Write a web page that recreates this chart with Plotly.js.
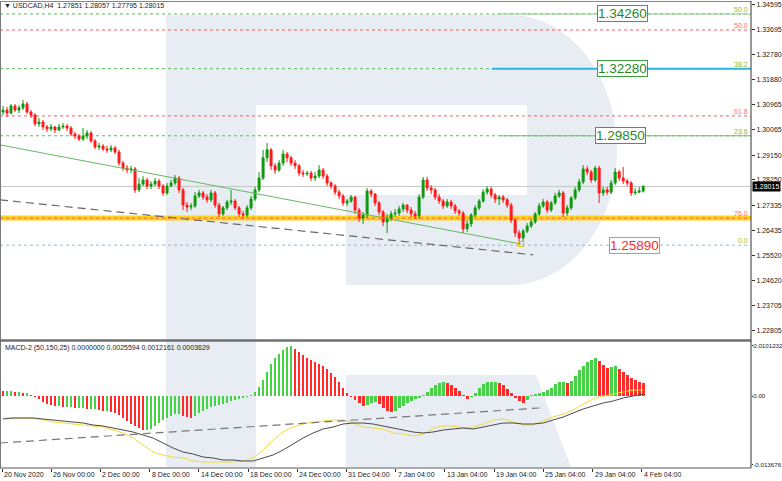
<!DOCTYPE html>
<html><head><meta charset="utf-8">
<script src="https://cdn.plot.ly/plotly-3.0.1.min.js"></script>
<style>html,body{margin:0;padding:0;background:#fff}#chart{width:782px;height:481px}</style>
</head><body><div id="chart"></div>
<script>
// ---------- DATA ----------
const openP=[1.3071,1.3078,1.3067,1.3093,1.3078,1.3086,1.3100,1.3071,1.3060,1.3028,
1.3035,1.3017,1.3010,1.3017,1.3006,1.3017,1.3020,1.3013,1.2991,1.2984,
1.2973,1.2984,1.2995,1.2966,1.2944,1.2948,1.2937,1.2934,1.2941,1.2926,
1.2886,1.2868,1.2861,1.2865,1.2789,1.2810,1.2825,1.2803,1.2810,1.2821,
1.2803,1.2778,1.2803,1.2814,1.2832,1.2789,1.2734,1.2727,1.2731,1.2767,
1.2778,1.2763,1.2753,1.2778,1.2734,1.2702,1.2724,1.2745,1.2749,1.2724,
1.2702,1.2698,1.2724,1.2756,1.2789,1.2832,1.2905,1.2934,1.2876,1.2861,
1.2886,1.2919,1.2905,1.2886,1.2876,1.2850,1.2847,1.2850,1.2832,1.2839,
1.2861,1.2839,1.2814,1.2803,1.2781,1.2767,1.2742,1.2749,1.2763,1.2716,
1.2687,1.2698,1.2785,1.2774,1.2742,1.2709,1.2673,1.2687,1.2702,1.2705,
1.2720,1.2734,1.2716,1.2702,1.2695,1.2763,1.2825,1.2796,1.2789,1.2763,
1.2749,1.2731,1.2745,1.2731,1.2713,1.2705,1.2648,1.2666,1.2698,1.2724,
1.2749,1.2781,1.2792,1.2771,1.2756,1.2763,1.2753,1.2734,1.2680,1.2633,
1.2615,1.2640,1.2658,1.2673,1.2702,1.2731,1.2745,1.2716,1.2742,1.2767,
1.2778,1.2705,1.2724,1.2760,1.2789,1.2818,1.2865,1.2854,1.2825,1.2868,
1.2778,1.2789,1.2781,1.2814,1.2854,1.2832,1.2821,1.2814,1.2778,1.2781,
1.27851];
const closeP=[1.3078,1.3067,1.3093,1.3078,1.3086,1.3100,1.3071,1.3060,1.3028,1.3035,
1.3017,1.3010,1.3017,1.3006,1.3017,1.3020,1.3013,1.2991,1.2984,1.2973,
1.2984,1.2995,1.2966,1.2944,1.2948,1.2937,1.2934,1.2941,1.2926,1.2886,
1.2868,1.2861,1.2865,1.2789,1.2810,1.2825,1.2803,1.2810,1.2821,1.2803,
1.2778,1.2803,1.2814,1.2832,1.2789,1.2734,1.2727,1.2731,1.2767,1.2778,
1.2763,1.2753,1.2778,1.2734,1.2702,1.2724,1.2745,1.2749,1.2724,1.2702,
1.2698,1.2724,1.2756,1.2789,1.2832,1.2905,1.2934,1.2876,1.2861,1.2886,
1.2919,1.2905,1.2886,1.2876,1.2850,1.2847,1.2850,1.2832,1.2839,1.2861,
1.2839,1.2814,1.2803,1.2781,1.2767,1.2742,1.2749,1.2763,1.2716,1.2687,
1.2698,1.2785,1.2774,1.2742,1.2709,1.2673,1.2687,1.2702,1.2705,1.2720,
1.2734,1.2716,1.2702,1.2695,1.2763,1.2825,1.2796,1.2789,1.2763,1.2749,
1.2731,1.2745,1.2731,1.2713,1.2705,1.2648,1.2666,1.2698,1.2724,1.2749,
1.2781,1.2792,1.2771,1.2756,1.2763,1.2753,1.2734,1.2680,1.2633,1.2615,
1.2640,1.2658,1.2673,1.2702,1.2731,1.2745,1.2716,1.2742,1.2767,1.2778,
1.2705,1.2724,1.2760,1.2789,1.2818,1.2865,1.2854,1.2825,1.2868,1.2778,
1.2789,1.2781,1.2814,1.2854,1.2832,1.2821,1.2814,1.2778,1.2781,1.27851,
1.28015];
const highP=[1.3093,1.3089,1.3100,1.3100,1.3096,1.3115,1.3107,1.3078,1.3067,1.3049,
1.3042,1.3024,1.3028,1.3020,1.3028,1.3031,1.3028,1.3020,1.2999,1.2991,
1.3013,1.3006,1.3002,1.2973,1.2959,1.2955,1.2948,1.2952,1.2948,1.2934,
1.2894,1.2879,1.2876,1.2872,1.2832,1.2839,1.2832,1.2821,1.2832,1.2829,
1.2810,1.2814,1.2825,1.2843,1.2839,1.2796,1.2745,1.2742,1.2781,1.2789,
1.2785,1.2774,1.2789,1.2785,1.2742,1.2731,1.2753,1.2789,1.2756,1.2731,
1.2713,1.2734,1.2767,1.2800,1.2854,1.2934,1.2959,1.2941,1.2886,1.2897,
1.2934,1.2926,1.2912,1.2897,1.2883,1.2861,1.2858,1.2858,1.2854,1.2879,
1.2868,1.2847,1.2821,1.2810,1.2789,1.2774,1.2756,1.2771,1.2767,1.2724,
1.2709,1.2796,1.2792,1.2778,1.2749,1.2716,1.2702,1.2713,1.2720,1.2731,
1.2742,1.2738,1.2727,1.2713,1.2774,1.2836,1.2836,1.2807,1.2796,1.2774,
1.2756,1.2756,1.2753,1.2738,1.2720,1.2713,1.2680,1.2705,1.2734,1.2756,
1.2792,1.2803,1.2800,1.2778,1.2771,1.2771,1.2760,1.2742,1.2687,1.2644,
1.2648,1.2669,1.2684,1.2709,1.2742,1.2756,1.2753,1.2749,1.2778,1.2789,
1.2785,1.2734,1.2767,1.2800,1.2829,1.2879,1.2876,1.2861,1.2876,1.2876,
1.2800,1.2800,1.2825,1.2868,1.2861,1.2872,1.2829,1.2821,1.2796,1.2800,
1.28057];
const lowP=[1.3060,1.3053,1.3064,1.3071,1.3067,1.3078,1.3064,1.3049,1.3020,1.3017,
1.3006,1.2999,1.3002,1.2995,1.3002,1.3010,1.3002,1.2984,1.2973,1.2966,
1.2966,1.2973,1.2959,1.2937,1.2934,1.2930,1.2923,1.2926,1.2919,1.2876,
1.2858,1.2850,1.2850,1.2778,1.2781,1.2803,1.2792,1.2792,1.2803,1.2792,
1.2767,1.2771,1.2800,1.2807,1.2778,1.2716,1.2709,1.2716,1.2724,1.2760,
1.2753,1.2742,1.2745,1.2724,1.2691,1.2695,1.2716,1.2734,1.2716,1.2691,
1.2684,1.2691,1.2716,1.2749,1.2781,1.2825,1.2890,1.2861,1.2847,1.2854,
1.2876,1.2890,1.2876,1.2865,1.2839,1.2836,1.2839,1.2821,1.2821,1.2832,
1.2829,1.2803,1.2792,1.2771,1.2756,1.2731,1.2731,1.2742,1.2702,1.2673,
1.2666,1.2687,1.2763,1.2731,1.2698,1.2658,1.2633,1.2677,1.2691,1.2695,
1.2709,1.2705,1.2691,1.2684,1.2684,1.2756,1.2785,1.2774,1.2753,1.2738,
1.2720,1.2724,1.2720,1.2702,1.2695,1.2633,1.2637,1.2655,1.2691,1.2716,
1.2742,1.2771,1.2760,1.2742,1.2734,1.2742,1.2724,1.2669,1.2619,1.2590,
1.2600,1.2633,1.2651,1.2666,1.2695,1.2724,1.2705,1.2709,1.2734,1.2760,
1.2691,1.2695,1.2716,1.2753,1.2781,1.2810,1.2843,1.2814,1.2818,1.2742,
1.2767,1.2771,1.2774,1.2807,1.2821,1.2810,1.2803,1.2767,1.2771,1.2778,
1.27795];

const macdHist=[0.0010,0.0010,0.0010,0.0008,0.0008,0.0006,0.0006,0.0002,-0.0002,-0.0006,
-0.0012,-0.0016,-0.0018,-0.0020,-0.0020,-0.0022,-0.0022,-0.0022,-0.0024,-0.0024,
-0.0024,-0.0026,-0.0026,-0.0026,-0.0028,-0.0030,-0.0030,-0.0032,-0.0034,-0.0038,
-0.0044,-0.0050,-0.0056,-0.0060,-0.0064,-0.0068,-0.0068,-0.0066,-0.0060,-0.0054,
-0.0048,-0.0044,-0.0040,-0.0036,-0.0036,-0.0040,-0.0042,-0.0044,-0.0040,-0.0034,
-0.0030,-0.0026,-0.0022,-0.0020,-0.0018,-0.0016,-0.0014,-0.0010,-0.0008,-0.0006,
-0.0004,-0.0002,0.0002,0.0008,0.0018,0.0032,0.0048,0.0064,0.0076,0.0084,
0.0092,0.0098,0.0101,0.0094,0.0088,0.0082,0.0076,0.0072,0.0068,0.0064,
0.0060,0.0054,0.0046,0.0038,0.0028,0.0016,0.0006,-0.0002,-0.0008,-0.0014,
-0.0020,-0.0018,-0.0014,-0.0012,-0.0016,-0.0024,-0.0030,-0.0032,-0.0030,-0.0024,
-0.0020,-0.0014,-0.0010,-0.0006,-0.0004,0.0002,0.0008,0.0016,0.0022,0.0026,
0.0028,0.0026,0.0022,0.0016,0.0010,0.0002,-0.0006,-0.0002,0.0006,0.0016,
0.0024,0.0028,0.0028,0.0028,0.0026,0.0022,0.0014,0.0006,-0.0004,-0.0010,
-0.0014,-0.0008,0.0002,0.0004,0.0006,0.0008,0.0012,0.0016,0.0024,0.0028,
0.0028,0.0026,0.0030,0.0040,0.0052,0.0060,0.0068,0.0072,0.0076,0.0070,
0.0062,0.0056,0.0058,0.0060,0.0054,0.0048,0.0042,0.0036,0.0032,0.0028,
0.0025594];
// lines sampled every 2.5 bars
const macdYellow=[-0.0044,-0.0044,-0.0044,-0.0044,-0.0048,-0.0052,-0.0054,-0.0056,-0.0058,-0.0060,
-0.0062,-0.0068,-0.0074,-0.0084,-0.0098,-0.0112,-0.0118,-0.0122,-0.0124,-0.0130,
-0.0132,-0.0132,-0.0132,-0.0132,-0.0130,-0.0124,-0.0108,-0.0088,-0.0072,-0.0062,
-0.0056,-0.0052,-0.0050,-0.0048,-0.0048,-0.0054,-0.0062,-0.0064,-0.0066,-0.0074,
-0.0076,-0.0080,-0.0076,-0.0064,-0.0060,-0.0060,-0.0064,-0.0062,-0.0056,-0.0048,
-0.0046,-0.0052,-0.0058,-0.0058,-0.0050,-0.0042,-0.0036,-0.0028,-0.0016,-0.0006,
0.0000,0.0004,0.0008,0.0012,0.0012161];
const macdBlack=[-0.0046,-0.0044,-0.0044,-0.0044,-0.0046,-0.0048,-0.0050,-0.0052,-0.0054,-0.0058,
-0.0060,-0.0064,-0.0068,-0.0072,-0.0078,-0.0084,-0.0094,-0.0104,-0.0112,-0.0116,
-0.0122,-0.0124,-0.0128,-0.0128,-0.0130,-0.0130,-0.0124,-0.0118,-0.0108,-0.0096,
-0.0084,-0.0074,-0.0066,-0.0062,-0.0056,-0.0054,-0.0054,-0.0056,-0.0060,-0.0064,
-0.0068,-0.0072,-0.0074,-0.0072,-0.0068,-0.0066,-0.0064,-0.0066,-0.0062,-0.0058,
-0.0054,-0.0054,-0.0056,-0.0056,-0.0054,-0.0048,-0.0042,-0.0034,-0.0026,-0.0020,
-0.0014,-0.0010,-0.0004,0.0000,0.0003629];

const xTickLabels=['20 Nov 2020','26 Nov 00:00','2 Dec 00:00','8 Dec 00:00','14 Dec 00:00','18 Dec 00:00','24 Dec 00:00','31 Dec 04:00','7 Jan 04:00','13 Jan 04:00','19 Jan 04:00','25 Jan 04:00','29 Jan 04:00','4 Feb 04:00'];
const priceTicks=[1.34595,1.33695,1.32780,1.31880,1.30965,1.30065,1.29150,1.28250,1.27335,1.26435,1.25520,1.24620,1.23705,1.22805];
const macdTicks=[0.0101232,0,-0.013676];
const macdTickText=['0.0101232','0.00','-0.013676'];

const fibLevels=[1.3426,1.3368,1.3228,1.3057,1.2985,1.2687,1.2589];
const fibNames=['50.0','50.0','38.2','61.8','23.6','76.0','0.0'];
const fibKind=['g','r','g','r','g','r','z'];
const targetLevels=[1.34260,1.32280,1.29850,1.25890];
const targetKind=['g','g','g','r'];
const lastPrice=1.28015;

const greenTrendX=[-0.75,129.5], greenTrendY=[1.2952,1.2593];
const priceDashX=[-0.75,132.5], priceDashY=[1.2753,1.2554];
const macdDashX=[-0.75,134], macdDashY=[-0.0094,-0.0024];

// ---------- BUILD ----------
const idx=openP.map((_,i)=>i);
const lineIdx=macdYellow.map((_,j)=>j*2.5);
const GREEN='#0e9a0e', RED='#ff1a1a';
const HG='#46d146', HR='#ff2b2b';
const histColors=macdHist.map((v,i)=> i===0?HR:(v>=macdHist[i-1]?HG:HR));
const FONT='Liberation Sans, Arial, sans-serif';

const traces=[
 {type:'candlestick',x:idx,open:openP,high:highP,low:lowP,close:closeP,xaxis:'x',yaxis:'y',
  increasing:{line:{color:GREEN,width:1},fillcolor:GREEN},
  decreasing:{line:{color:RED,width:1},fillcolor:RED},
  whiskerwidth:0,hoverinfo:'skip',showlegend:false},
 {type:'scatter',mode:'lines',x:greenTrendX,y:greenTrendY,xaxis:'x',yaxis:'y',line:{color:'#64b864',width:1},hoverinfo:'skip'},
 {type:'scatter',mode:'lines',x:priceDashX,y:priceDashY,xaxis:'x',yaxis:'y',line:{color:'#666',width:1.2,dash:'8px,5px'},hoverinfo:'skip'},
 {type:'scatter',mode:'markers',x:[greenTrendX[1]],y:[greenTrendY[1]],xaxis:'x',yaxis:'y',marker:{symbol:'square-open',size:5,color:'#e6c200',line:{width:1}},hoverinfo:'skip'},
 {type:'bar',x:idx,y:macdHist,xaxis:'x',yaxis:'y2',marker:{color:histColors,line:{width:0}},width:0.7,hoverinfo:'skip'},
 {type:'scatter',mode:'lines',x:lineIdx,y:macdYellow,xaxis:'x',yaxis:'y2',line:{color:'#f2da3a',width:1},hoverinfo:'skip'},
 {type:'scatter',mode:'lines',x:lineIdx,y:macdBlack,xaxis:'x',yaxis:'y2',line:{color:'#4a4a4a',width:1},hoverinfo:'skip'},
 {type:'scatter',mode:'lines',x:macdDashX,y:macdDashY,xaxis:'x',yaxis:'y2',line:{color:'#777',width:1.2,dash:'8px,5px'},hoverinfo:'skip'}
];

const W=751,H=468;
const PX=p=>(p/W).toFixed(5), PY=p=>((H-p)/H).toFixed(5);
const pt=(x,y)=>PX(x)+','+PY(y);
const wmPath='M'+pt(166,15)+' L'+pt(510,15)+' C'+pt(569,15)+' '+pt(617,75)+' '+pt(617,150)+
 ' C'+pt(617,225)+' '+pt(569,285)+' '+pt(510,285)+' L'+pt(346,285)+' L'+pt(346,195)+' L'+pt(527,195)+
 ' L'+pt(527,105)+' L'+pt(256,105)+' L'+pt(256,467)+' L'+pt(166,467)+' Z';
const legPath='M'+pt(346,375)+' L'+pt(536,375)+' L'+pt(571,467)+' L'+pt(346,467)+' Z';
const WM='#e8ecf3';

const fibColor={g:'#5cb85c',r:'#ff5a5a',z:'#8fb8d8'};
const shapes=[
 {type:'path',xref:'paper',yref:'paper',path:wmPath,fillcolor:WM,line:{width:0},layer:'below'},
 {type:'path',xref:'paper',yref:'paper',path:legPath,fillcolor:WM,line:{width:0},layer:'below'},
 {type:'line',xref:'paper',yref:'y',x0:0,x1:1,y0:lastPrice,y1:lastPrice,line:{color:'#c6c6c6',width:1},layer:'below'},
 {type:'line',xref:'paper',yref:'y',x0:0,x1:1,y0:fibLevels[5],y1:fibLevels[5],line:{color:'#ffd21a',width:5},layer:'below'}
];
fibLevels.forEach((v,i)=>shapes.push({type:'line',xref:'paper',yref:'y',x0:0,x1:1,y0:v,y1:v,
  line:{color:fibColor[fibKind[i]],width:1,dash:'dot'},layer:'below'}));
shapes.push({type:'line',xref:'paper',yref:'y',x0:PX(497),x1:1,y0:targetLevels[0],y1:targetLevels[0],line:{color:'#8fd08f',width:1},layer:'below'});
shapes.push({type:'line',xref:'paper',yref:'y',x0:PX(492),x1:1,y0:targetLevels[1],y1:targetLevels[1],line:{color:'#2cb4e6',width:2},layer:'below'});
shapes.push({type:'line',xref:'paper',yref:'y',x0:PX(500),x1:1,y0:targetLevels[2],y1:targetLevels[2],line:{color:'#6cc26c',width:1},layer:'below'});
shapes.push({type:'line',xref:'paper',yref:'paper',x0:0.0007,x1:0.0007,y0:0,y1:PY(1),line:{color:'#777',width:1}});
shapes.push({type:'line',xref:'paper',yref:'paper',x0:0,x1:1,y0:PY(1.5),y1:PY(1.5),line:{color:'#888',width:1}});
shapes.push({type:'line',xref:'paper',yref:'paper',x0:0,x1:1,y0:PY(340.5),y1:PY(340.5),line:{color:'#707070',width:2.5}});
shapes.push({type:'line',xref:'paper',yref:'paper',x0:0,x1:1,y0:0,y1:0,line:{color:'#555',width:1}});
shapes.push({type:'line',xref:'paper',yref:'paper',x0:1,x1:1,y0:0,y1:PY(1),line:{color:'#333',width:1}});

const tickPos=xTickLabels.map((_,i)=>-0.25+12.3*i);
const annotations=[];
xTickLabels.forEach((t,i)=>annotations.push({xref:'x',yref:'paper',x:tickPos[i],y:0,xanchor:'left',yanchor:'top',
  yshift:-1,text:t,showarrow:false,font:{family:FONT,size:7,color:'#222'}}));
annotations.push({xref:'paper',yref:'paper',x:0,y:1,xanchor:'left',yanchor:'top',xshift:2,yshift:0,showarrow:false,
  text:'▼ USDCAD,H4  1.27851 1.28057 1.27795 1.28015',font:{family:FONT,size:7,color:'#222'}});
annotations.push({xref:'paper',yref:'paper',x:0,y:PY(342),xanchor:'left',yanchor:'top',xshift:3,showarrow:false,
  text:'MACD-2 (50,150,25) 0.0000000 0.0025594 0.0012161 0.0003629',font:{family:FONT,size:7,color:'#222'}});
const fibTxt={g:'#88bb33',r:'#ff6a6a',z:'#a8bd2a'};
fibLevels.forEach((v,i)=>annotations.push({xref:'paper',yref:'y',x:1,y:v,xanchor:'right',yanchor:'bottom',xshift:-1,yshift:-1,
  text:fibNames[i],showarrow:false,font:{family:FONT,size:7,color:fibTxt[fibKind[i]]}}));
const tgtX=[622,622,620,634];
targetLevels.forEach((v,i)=>{const g=targetKind[i]==='g';annotations.push({xref:'paper',yref:'y',x:PX(tgtX[i]),y:v,
  xanchor:'center',yanchor:'middle',text:v.toFixed(5),showarrow:false,bgcolor:'#fff',
  bordercolor:g?'#3f9f3f':'#ff7b7b',borderwidth:1,borderpad:0,
  font:{family:FONT,size:13.5,color:g?'#1f8a1f':'#ff2a2a'}});});
annotations.push({xref:'paper',yref:'y',x:1,y:lastPrice,xanchor:'left',yanchor:'middle',xshift:1,showarrow:false,
  text:lastPrice.toFixed(5),bgcolor:'#000',borderpad:1,font:{family:FONT,size:7,color:'#fff'}});

const layout={
 width:782,height:481,margin:{l:0,r:31,t:0,b:13,pad:0},
 paper_bgcolor:'#fff',plot_bgcolor:'rgba(0,0,0,0)',showlegend:false,
 xaxis:{domain:[0,1],range:[-0.75,186.95],anchor:'y2',showgrid:false,zeroline:false,showline:false,
   rangeslider:{visible:false},tickvals:tickPos,ticks:'outside',ticklen:3,tickcolor:'#333',showticklabels:false,fixedrange:true},
 yaxis:{domain:[Number(PY(339)),Number(PY(1))],range:[1.34765-0.000362*339,1.34765-0.000362*1],side:'right',anchor:'x',
   showgrid:false,zeroline:false,showline:false,tickvals:priceTicks,ticktext:priceTicks.map(v=>v.toFixed(5)),
   ticks:'outside',ticklen:3,tickcolor:'#333',tickfont:{family:FONT,size:7,color:'#222'},fixedrange:true},
 yaxis2:{domain:[0,Number(PY(342))],range:[-0.0144,0.0108],side:'right',anchor:'x',showgrid:false,zeroline:false,showline:false,
   tickvals:macdTicks,ticktext:macdTickText,ticks:'outside',ticklen:1,ticklabelstandoff:-1,tickcolor:'#333',
   tickfont:{family:FONT,size:6.2,color:'#222'},fixedrange:true},
 shapes:shapes,annotations:annotations,bargap:0
};
Plotly.newPlot('chart',traces,layout,{staticPlot:true,displayModeBar:false});
</script></body></html>
